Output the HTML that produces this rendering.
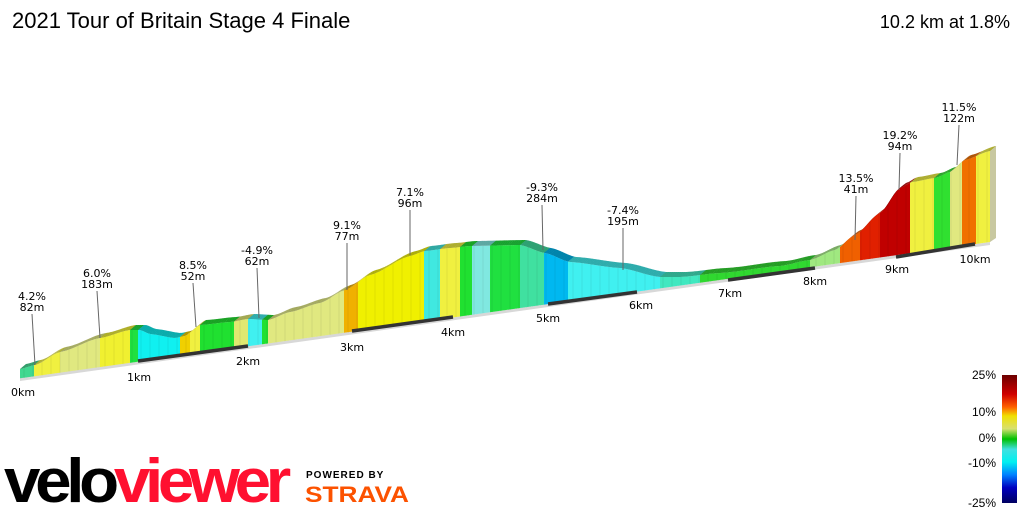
<!DOCTYPE html>
<html><head><meta charset="utf-8"><style>
body{margin:0;width:1024px;height:512px;background:#fff;overflow:hidden;font-family:"Liberation Sans",sans-serif}
</style></head><body>
<svg id="s" width="1024" height="512" xmlns="http://www.w3.org/2000/svg" font-family="Liberation Sans, sans-serif">
<defs><linearGradient id="lg" x1="0" y1="0" x2="0" y2="1">
<stop offset="0" stop-color="#6b0000"/><stop offset="0.15" stop-color="#d00000"/><stop offset="0.25" stop-color="#ff6000"/><stop offset="0.32" stop-color="#f0e000"/><stop offset="0.42" stop-color="#d8e070"/><stop offset="0.5" stop-color="#00c000"/><stop offset="0.58" stop-color="#40e0e0"/><stop offset="0.68" stop-color="#00f0f0"/><stop offset="0.78" stop-color="#0080ff"/><stop offset="0.88" stop-color="#0000c0"/><stop offset="1" stop-color="#000060"/>
</linearGradient></defs>
<text x="12" y="28" font-size="22" fill="#000">2021 Tour of Britain Stage 4 Finale</text>
<text x="1010" y="28" font-size="18" fill="#000" text-anchor="end">10.2 km at 1.8%</text>
<g id="prof"></g>
<g id="ann" font-size="11" fill="#000" text-anchor="middle" font-family="DejaVu Sans, sans-serif"></g>
<g font-size="11" fill="#000" text-anchor="middle" font-family="DejaVu Sans, sans-serif">
<text x="23" y="396">0km</text><text x="139" y="381">1km</text><text x="248" y="365">2km</text><text x="352" y="351">3km</text><text x="453" y="336">4km</text><text x="548" y="322">5km</text><text x="641" y="309">6km</text><text x="730" y="297">7km</text><text x="815" y="285">8km</text><text x="897" y="273">9km</text><text x="975" y="263">10km</text>
</g>
<rect x="1002" y="375" width="15" height="128" fill="url(#lg)"/>
<g font-size="12" fill="#000" text-anchor="end">
<text x="996" y="379">25%</text><text x="996" y="416">10%</text><text x="996" y="442">0%</text><text x="996" y="467">-10%</text><text x="996" y="507">-25%</text>
</g>
<text x="4" y="502" font-size="62" font-weight="bold" letter-spacing="-5" fill="#000" textLength="282" lengthAdjust="spacingAndGlyphs"><tspan>velo</tspan><tspan fill="#ff1030">viewer</tspan></text>
<text x="306" y="478" font-size="10" font-weight="bold" fill="#000" letter-spacing="1">POWERED BY</text>
<text x="305" y="502" font-size="22" font-weight="bold" fill="#fc5200" textLength="104" lengthAdjust="spacingAndGlyphs">STRAVA</text>
</svg>
<script>
(function(){
const NS="http://www.w3.org/2000/svg";
const P=[[20,369],[35,365],[60,352],[100,338],[130,330],[140,330],[150,334],[175,338],[185,336],[200,325],[230,322],[248,319],[268,320],[290,312],[320,303],[345,290],[370,275],[410,256],[425,251],[450,248],[470,246],[520,245],[545,253],[570,262],[620,268],[660,277],[680,277],[720,273],[780,266],[810,260],[835,250],[855,235],[880,213],[900,188],[912,182],[935,178],[950,172],[965,160],[990,151]];
function ty(x){for(let i=0;i<P.length-1;i++){if(x<=P[i+1][0]){let t=(x-P[i][0])/(P[i+1][0]-P[i][0]);let s=(1-Math.cos(Math.PI*t))/2;let u=0.5*t+0.5*s;return P[i][1]+u*(P[i+1][1]-P[i][1]);}}return P[P.length-1][1];}
function by(x){return 378+(x-22)*(242-378)/(990-22);}
const C=[[35,"#40d890"],[60,"#f0f040"],[100,"#e0e880"],[130,"#f0f030"],[138,"#20e040"],[180,"#10f0f0"],[190,"#f0d000"],[200,"#f0f040"],[235,"#20e030"],[248,"#e0e870"],[262,"#40f0f0"],[268,"#20e030"],[345,"#e0e880"],[358,"#f0b000"],[425,"#f0f000"],[440,"#40e8e0"],[460,"#f0f040"],[472,"#20e030"],[490,"#80e8e0"],[520,"#20e040"],[545,"#40e0a0"],[568,"#00b8f0"],[660,"#40f0f0"],[700,"#40e8c0"],[810,"#30d830"],[840,"#a0e880"],[860,"#f06000"],[880,"#e02000"],[910,"#c00000"],[935,"#f0f040"],[950,"#30e030"],[963,"#e0e880"],[977,"#f07000"],[991,"#f0f040"]];
function col(x){for(const c of C)if(x<c[0])return c[1];return "#f0f040";}
function dark(h){let n=parseInt(h.slice(1),16);let r=(n>>16)*0.72,g=((n>>8)&255)*0.72,b=(n&255)*0.72;return "rgb("+(r|0)+","+(g|0)+","+(b|0)+")";}
function add(parent,tag,attrs,txt){const e=document.createElementNS(NS,tag);for(const k in attrs)e.setAttribute(k,attrs[k]);if(txt)e.textContent=txt;parent.appendChild(e);return e;}
const g=document.getElementById("prof");
add(g,"polygon",{points:"20,381 990,245 990,242 20,378",fill:"#d8d8d8"});
for(let x=20;x<990;x+=2){let x2=x+2.3;let c=col(x+1);
add(g,"polygon",{points:x+","+by(x)+" "+x+","+ty(x)+" "+x2+","+ty(x2)+" "+x2+","+by(x2),fill:c});
add(g,"polygon",{points:x+","+ty(x)+" "+(x+6)+","+(ty(x)-5)+" "+(x2+6)+","+(ty(x2)-5)+" "+x2+","+ty(x2),fill:dark(c)});}
for(let x=24;x<990;x+=9){add(g,"line",{x1:x,y1:by(x),x2:x,y2:ty(x),stroke:"rgba(0,0,0,0.07)","stroke-width":1});}
add(g,"polygon",{points:"990,242 990,"+ty(990)+" 996,"+(ty(990)-5)+" 996,238",fill:"#c8c8a0"});
[[138,361,248,346],[352,331,453,317],[548,304,637,292],[728,280,815,268],[896,257,975,244]].forEach(s=>{add(g,"line",{x1:s[0],y1:s[1],x2:s[2],y2:s[3],stroke:"#333","stroke-width":3.5});});
const A=[[32,296,"4.2%","82m",35,365],[97,273,"6.0%","183m",100,338],[193,265,"8.5%","52m",196,327],[257,250,"-4.9%","62m",259,318],[347,225,"9.1%","77m",347,290],[410,192,"7.1%","96m",410,255],[542,187,"-9.3%","284m",543,250],[623,210,"-7.4%","195m",623,270],[856,178,"13.5%","41m",855,240],[900,135,"19.2%","94m",899,190],[959,107,"11.5%","122m",957,165]];
const an=document.getElementById("ann");
A.forEach(t=>{add(an,"text",{x:t[0],y:t[1]+4},t[2]);add(an,"text",{x:t[0],y:t[1]+15},t[3]);add(an,"line",{x1:t[0],y1:t[1]+18,x2:t[4],y2:t[5],stroke:"#666","stroke-width":1});});
})();
</script>
</body></html>
